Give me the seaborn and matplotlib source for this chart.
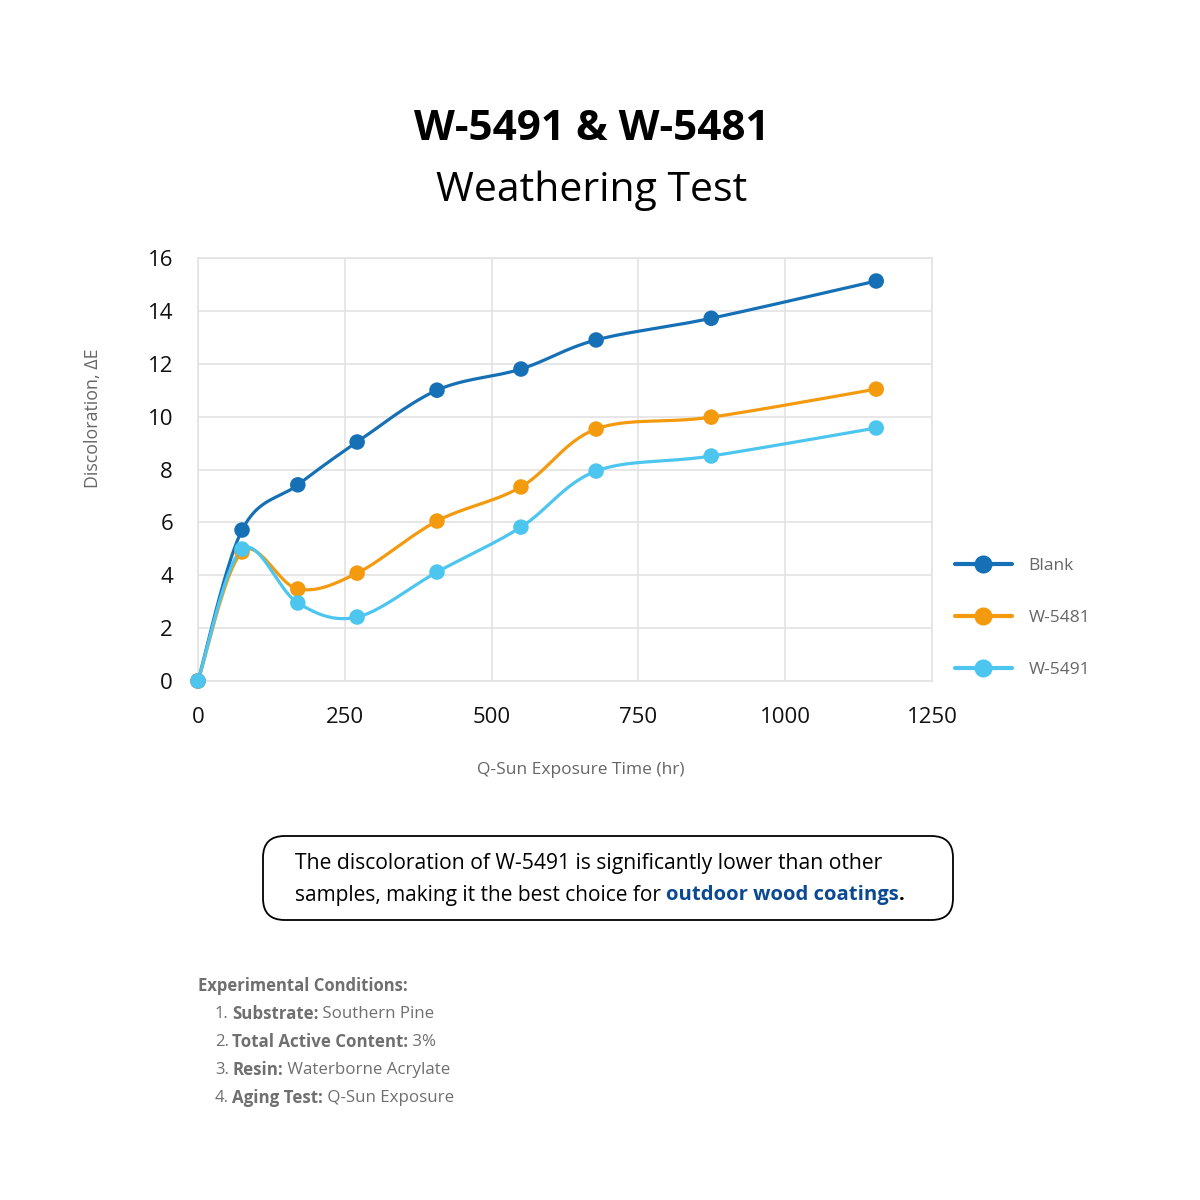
import numpy as np
import pandas as pd
import seaborn as sns
import matplotlib
matplotlib.use("Agg")
import matplotlib.pyplot as plt
from matplotlib.lines import Line2D
from matplotlib.patches import FancyBboxPatch

# ---------------- data ----------------
hours = [0, 75, 170, 271, 407, 550, 678, 874, 1155]
blank = [0, 5.71, 7.42, 9.04, 11.0, 11.8, 12.9, 13.72, 15.13]
w5481 = [0, 4.88, 3.48, 4.08, 6.05, 7.34, 9.53, 9.98, 11.04]
w5491 = [0, 4.99, 2.95, 2.42, 4.12, 5.82, 7.94, 8.51, 9.57]
series_names = ["Blank", "W-5481", "W-5491"]
series_colors = ["#1570b6", "#f39a0f", "#4dc6ef"]
x_ticks = [0, 250, 500, 750, 1000, 1250]
y_ticks = [0, 2, 4, 6, 8, 10, 12, 14, 16]

title1 = "W-5491 & W-5481"
title2 = "Weathering Test"
xlabel = "Q-Sun Exposure Time (hr)"
ylabel = "Discoloration, ΔE"
note_line1 = "The discoloration of W-5491 is significantly lower than other"
note_line2a = "samples, making it the best choice for "
note_line2b = "outdoor wood coatings"
cond_head = "Experimental Conditions:"
cond_nums = ["1.", "2.", "3.", "4."]
cond_keys = ["Substrate:", "Total Active Content:", "Resin:", "Aging Test:"]
cond_vals = [" Southern Pine", " 3%", " Waterborne Acrylate", " Q-Sun Exposure"]

# ---------------- style ----------------
sns.set_theme(style="white")
plt.rcParams["font.family"] = ["Open Sans", "DejaVu Sans"]

fig = plt.figure(figsize=(12, 12), dpi=100)
ax = fig.add_axes([198 / 1200, 1 - 681 / 1200, 734 / 1200, 423 / 1200])

X0, X1, Y0, Y1 = 0, 1250, 0, 16
SX, SY = 734 / (X1 - X0), 423 / (Y1 - Y0)


def smooth(xs, ys, n=40):
    """Excel-style smoothed line (Bezier through points, computed in pixel space)."""
    P = np.column_stack([np.asarray(xs) * SX, np.asarray(ys) * SY])
    out = []
    m = len(P)
    for i in range(m - 1):
        p0 = P[i - 1] if i > 0 else P[i]
        p1, p2 = P[i], P[i + 1]
        p3 = P[i + 2] if i + 2 < m else P[i + 1]
        c1 = p1 + (p2 - p0) / 6.0
        c2 = p2 - (p3 - p1) / 6.0
        t = np.linspace(0, 1, n, endpoint=(i == m - 2))[:, None]
        seg = (1 - t) ** 3 * p1 + 3 * (1 - t) ** 2 * t * c1 + 3 * (1 - t) * t ** 2 * c2 + t ** 3 * p2
        out.append(seg)
    arr = np.vstack(out)
    return arr[:, 0] / SX, arr[:, 1] / SY


curve_frames = []
point_frames = []
for name, vals in zip(series_names, [blank, w5481, w5491]):
    cx, cy = smooth(hours, vals)
    curve_frames.append(pd.DataFrame({"x": cx, "y": cy, "series": name}))
    point_frames.append(pd.DataFrame({"x": hours, "y": vals, "series": name}))

for name, color, cdf, pdf in zip(series_names, series_colors, curve_frames, point_frames):
    sns.lineplot(data=cdf, x="x", y="y", sort=False, color=color, linewidth=2.3,
                 ax=ax, legend=False, zorder=3)
    sns.scatterplot(data=pdf, x="x", y="y", color=color, s=125, edgecolor="none",
                    ax=ax, legend=False, zorder=4)
for coll in ax.collections:
    coll.set_clip_on(False)

ax.set_xlim(X0, X1)
ax.set_ylim(Y0, Y1)
ax.set_xticks(x_ticks)
ax.set_yticks(y_ticks)
ax.set_xticklabels([str(v) for v in x_ticks], fontsize=16, color="#111111")
ax.set_yticklabels([str(v) for v in y_ticks], fontsize=16, color="#111111")
ax.tick_params(axis="x", length=0, pad=19)
ax.tick_params(axis="y", length=0, pad=18)
ax.grid(True, color="#e3e3e3", linewidth=1.2)
ax.set_axisbelow(True)
for sp in ax.spines.values():
    sp.set_color("#e3e3e3")
    sp.set_linewidth(1.2)
ax.set_xlabel("")
ax.set_ylabel("")

# axis titles
fig.text(581 / 1200, 1 - 770 / 1200, xlabel, ha="center", va="center", fontsize=12.5, color="#666666")
fig.text(93 / 1200, 1 - 418 / 1200, ylabel, ha="center", va="center", rotation=90,
         fontsize=12.8, color="#666666")

# titles
fig.text(592 / 1200, 1 - 129 / 1200, title1, ha="center", va="center", fontsize=30.4,
         fontweight="bold", color="black")
fig.text(592 / 1200, 1 - 191 / 1200, title2, ha="center", va="center", fontsize=29.5, color="black")

# legend
handles = [Line2D([0], [0], color=c, lw=3, marker="o", markersize=13, markeredgewidth=0)
           for c in series_colors]
leg = fig.legend(handles, series_names, loc="center left",
                 bbox_to_anchor=(946 / 1200, 1 - 618 / 1200), frameon=False,
                 fontsize=12.5, labelspacing=2.05, handlelength=3.3, handletextpad=0.95,
                 borderpad=0)
for t in leg.get_texts():
    t.set_color("#666666")

# note box
box = FancyBboxPatch((263 / 1200, 1 - 920 / 1200), 690 / 1200, 84 / 1200,
                     boxstyle="round,pad=0,rounding_size=0.018", transform=fig.transFigure,
                     facecolor="white", edgecolor="black", linewidth=1.3)
fig.patches.append(box)

fig.canvas.draw()
renderer = fig.canvas.get_renderer()


def runs(x_px, y_px, parts, size):
    x = x_px / 1200
    for txt, weight, color, *sz in parts:
        t = fig.text(x, 1 - y_px / 1200, txt, ha="left", va="center",
                     fontsize=sz[0] if sz else size, fontweight=weight, color=color)
        bb = t.get_window_extent(renderer=renderer)
        x = bb.x1 / 1200
    return x


runs(295, 863, [(note_line1, "normal", "black")], 15.2)
runs(295, 895, [(note_line2a, "normal", "black"), (note_line2b, "bold", "#0b4a92", 14.6),
                (".", "bold", "black", 14.6)], 15.0)

gray = "#6f6f6f"
runs(198, 986, [(cond_head, "bold", gray)], 12)
for i, (n, k, v) in enumerate(zip(cond_nums, cond_keys, cond_vals)):
    y = 1014 + 28 * i
    runs(215, y, [(n, "normal", gray)], 12)
    runs(232, y, [(k, "bold", gray), (v, "normal", gray)], 12.2)

fig.savefig("out.png", dpi=100, facecolor="white")
